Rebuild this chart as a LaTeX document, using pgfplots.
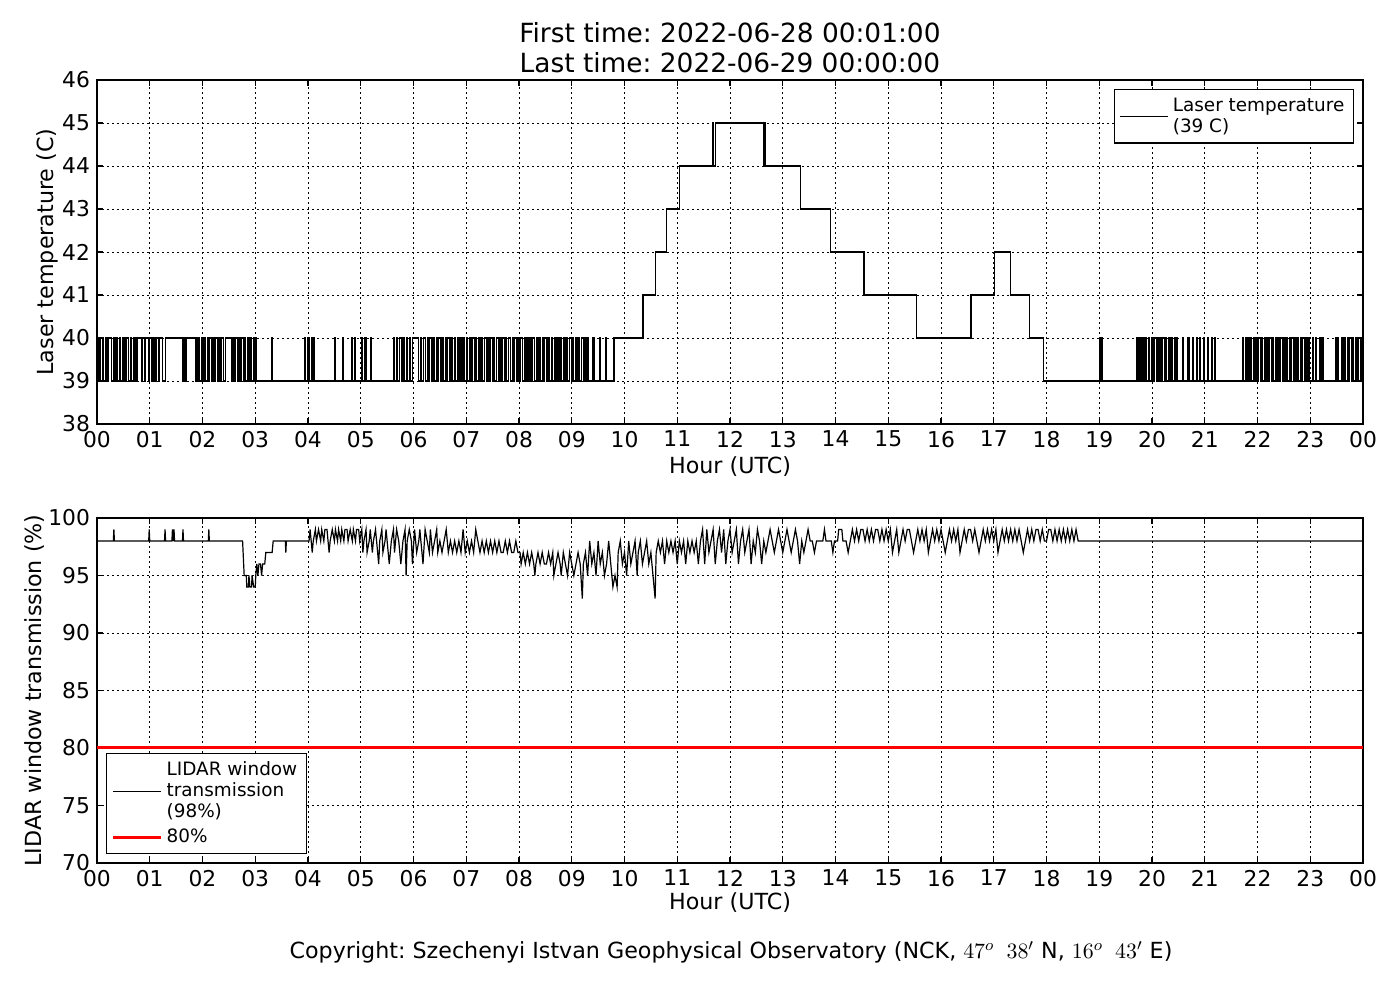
\documentclass[border=0pt]{standalone}
\usepackage{pgfplots}
\pgfplotsset{compat=1.18}
\usepackage{fontspec}
\setmainfont{DejaVu Sans}
\frenchspacing

\pgfplotstableread{
x y
0 40
0.02 39
0.05 40
0.07 39
0.10 40
0.13 39
0.17 40
0.19 39
0.22 40
0.27 39
0.31 40
0.33 39
0.36 40
0.38 39
0.42 40
0.45 39
0.49 40
0.51 39
0.55 40
0.60 39
0.64 40
0.66 39
0.70 40
0.72 39
0.76 40
0.84 39
0.86 40
0.90 39
0.92 40
0.97 39
0.99 40
1.04 39
1.06 40
1.10 39
1.12 40
1.17 39
1.19 40
1.24 39
1.30 40
1.62 39
1.65 40
1.67 39
1.70 40
1.86 39
1.88 40
1.90 39
1.93 40
1.95 39
1.98 40
2.01 39
2.04 40
2.06 39
2.09 40
2.11 39
2.14 40
2.17 39
2.20 40
2.22 39
2.25 40
2.28 39
2.31 40
2.33 39
2.36 40
2.40 39
2.43 40
2.56 39
2.58 40
2.60 39
2.63 40
2.66 39
2.69 40
2.71 39
2.74 40
2.77 39
2.80 40
2.82 39
2.85 40
2.88 39
2.91 40
2.93 39
2.96 40
2.98 39
3.01 40
3.03 39
3.31 40
3.33 39
3.94 40
3.96 39
4.00 40
4.02 39
4.06 40
4.08 39
4.11 40
4.13 39
4.50 40
4.52 39
4.66 40
4.68 39
4.82 40
4.84 39
4.88 40
4.90 39
5.01 40
5.03 39
5.08 40
5.10 39
5.18 40
5.20 39
5.62 40
5.64 39
5.68 40
5.70 39
5.74 40
5.77 39
5.80 40
5.82 39
5.86 40
5.89 39
5.92 40
5.94 39
5.98 40
6.10 39
6.13 40
6.15 39
6.19 40
6.22 39
6.26 40
6.28 39
6.31 40
6.35 39
6.38 40
6.40 39
6.43 40
6.45 39
6.48 40
6.52 39
6.55 40
6.57 39
6.60 40
6.62 39
6.65 40
6.69 39
6.72 40
6.74 39
6.77 40
6.80 39
6.83 40
6.85 39
6.88 40
6.92 39
6.95 40
6.97 39
7.00 40
7.03 39
7.06 40
7.08 39
7.11 40
7.15 39
7.18 40
7.20 39
7.23 40
7.26 39
7.29 40
7.31 39
7.34 40
7.38 39
7.41 40
7.43 39
7.46 40
7.49 39
7.52 40
7.54 39
7.57 40
7.61 39
7.64 40
7.66 39
7.69 40
7.72 39
7.75 40
7.77 39
7.80 40
7.84 39
7.87 40
7.89 39
7.92 40
7.95 39
7.98 40
8.00 39
8.03 40
8.07 39
8.10 40
8.12 39
8.15 40
8.18 39
8.21 40
8.23 39
8.26 40
8.30 39
8.33 40
8.35 39
8.38 40
8.41 39
8.44 40
8.46 39
8.49 40
8.53 39
8.56 40
8.58 39
8.61 40
8.64 39
8.67 40
8.69 39
8.72 40
8.76 39
8.79 40
8.81 39
8.84 40
8.87 39
8.90 40
8.92 39
8.95 40
8.99 39
9.02 40
9.04 39
9.07 40
9.10 39
9.13 40
9.15 39
9.18 40
9.22 39
9.25 40
9.27 39
9.30 40
9.32 39
9.40 40
9.42 39
9.52 40
9.54 39
9.64 40
9.66 39
9.80 40
10.35 41
10.58 42
10.79 43
11.05 44
11.67 45
11.69 44
11.72 45
12.64 44
12.66 45
12.68 44
13.33 43
13.90 42
14.54 41
15.53 40
16.57 41
17.02 42
17.31 41
17.67 40
17.95 39
19.00 40
19.02 39
19.04 40
19.06 39
19.70 40
19.72 39
19.74 40
19.77 39
19.79 40
19.81 39
19.84 40
19.86 39
19.88 40
19.90 39
19.93 40
19.95 39
20.00 40
20.02 39
20.05 40
20.08 39
20.10 40
20.12 39
20.15 40
20.17 39
20.20 40
20.23 39
20.26 40
20.28 39
20.31 40
20.33 39
20.36 40
20.38 39
20.42 40
20.44 39
20.47 40
20.49 39
20.58 40
20.60 39
20.68 40
20.70 39
20.76 40
20.78 39
20.84 40
20.86 39
20.90 40
20.92 39
20.98 40
21.00 39
21.05 40
21.07 39
21.12 40
21.14 39
21.18 40
21.20 39
21.72 40
21.74 39
21.77 40
21.79 39
21.81 40
21.84 39
21.87 40
21.89 39
21.92 40
21.94 39
21.97 40
21.99 39
22.02 40
22.05 39
22.08 40
22.10 39
22.13 40
22.15 39
22.18 40
22.20 39
22.23 40
22.26 39
22.29 40
22.31 39
22.34 40
22.36 39
22.39 40
22.41 39
22.44 40
22.47 39
22.50 40
22.52 39
22.55 40
22.57 39
22.60 40
22.62 39
22.65 40
22.68 39
22.71 40
22.73 39
22.76 40
22.78 39
22.81 40
22.83 39
22.86 40
22.89 39
22.92 40
22.94 39
22.97 40
22.99 39
23.04 40
23.06 39
23.10 40
23.12 39
23.18 40
23.20 39
23.22 40
23.24 39
23.48 40
23.50 39
23.52 40
23.54 39
23.60 40
23.62 39
23.65 40
23.67 39
23.70 40
23.72 39
23.75 40
23.78 39
23.80 40
23.82 39
23.85 40
23.87 39
23.90 40
23.92 39
23.95 40
23.97 39
24.00 39
}\lasertable

\pgfplotstableread{
x y
0 98
0.31 98
0.32 99
0.33 98
0.98 98
0.99 99
1.00 98
1.28 98
1.29 99
1.30 98
1.42 98
1.43 99
1.44 98
1.46 99
1.47 98
1.62 98
1.63 99
1.64 98
2.11 98
2.12 99
2.13 98
2.76 98
2.79 95
2.83 95
2.84 94
2.87 94
2.88 95
2.90 94
2.93 94
2.94 95
2.97 94
3.00 94
3.01 95
3.03 96
3.05 95
3.07 96
3.10 96
3.12 95
3.14 96
3.18 96
3.20 97
3.32 97
3.34 98
3.57 98
3.58 97
3.59 98
4.02 98
4.04 99
4.06 98
4.08 97
4.10 98
4.14 99
4.16 98
4.20 99
4.24 98
4.26 99
4.30 98
4.32 99
4.36 99
4.38 98
4.40 97
4.42 98
4.46 99
4.50 98
4.52 99
4.56 98
4.58 99
4.62 98
4.64 99
4.68 98
4.70 99
4.74 99
4.76 98
4.80 99
4.84 98
4.86 99
4.90 98
4.92 99
4.96 99
4.98 98
5.02 99
5.04 97
5.06 98
5.10 99
5.12 97
5.16 98
5.18 99
5.22 97
5.24 98
5.28 99
5.30 98
5.34 96
5.36 98
5.40 99
5.42 97
5.46 98
5.48 99
5.52 97
5.54 96
5.58 98
5.62 99
5.64 97
5.68 99
5.72 98
5.76 96
5.80 98
5.84 99
5.86 95
5.88 98
5.92 99
5.96 98
5.98 96
6.02 99
6.06 97
6.10 98
6.12 99
6.16 97
6.18 96
6.22 99
6.26 98
6.30 97
6.32 99
6.36 97
6.40 98
6.44 99
6.46 97
6.50 98
6.54 97
6.58 98
6.62 99
6.66 97
6.70 98
6.74 97
6.78 98
6.82 97
6.86 98
6.90 97
6.94 99
6.98 97
7.02 98
7.06 97
7.10 98
7.14 97
7.18 99
7.22 98
7.26 97
7.30 98
7.34 97
7.38 98
7.42 97
7.46 98
7.50 97
7.54 98
7.58 97
7.62 98
7.66 97
7.70 97
7.74 98
7.78 97
7.82 98
7.86 97
7.90 97
7.94 98
7.98 97
8.02 97
8.04 96
8.08 97
8.12 96
8.16 97
8.20 96
8.24 97
8.28 96
8.30 95
8.32 96
8.36 97
8.40 96
8.44 97
8.48 96
8.52 96
8.56 97
8.60 96
8.64 97
8.66 95
8.70 96
8.74 97
8.78 96
8.80 95
8.84 97
8.88 96
8.92 95
8.96 97
9.00 96
9.04 95
9.08 96
9.12 97
9.16 96
9.20 93
9.22 96
9.26 97
9.30 95
9.34 98
9.38 96
9.42 97
9.46 95
9.50 98
9.54 96
9.58 97
9.62 95
9.66 96
9.70 98
9.74 96
9.78 94
9.82 95
9.86 94
9.88 97
9.92 98
9.96 96
10.00 97
10.04 95
10.08 98
10.12 96
10.16 97
10.20 98
10.24 95
10.26 97
10.30 98
10.34 96
10.38 97
10.42 98
10.46 96
10.50 97
10.54 95
10.58 93
10.60 97
10.64 98
10.68 97
10.72 98
10.76 96
10.80 98
10.84 97
10.88 98
10.92 97
10.96 98
11.00 96
11.04 98
11.08 97
11.12 98
11.16 96
11.20 98
11.24 97
11.28 98
11.32 97
11.36 98
11.40 96
11.44 98
11.48 99
11.52 96
11.56 99
11.60 97
11.64 98
11.68 99
11.72 96
11.76 98
11.80 99
11.84 97
11.88 99
11.92 96
11.96 98
12.00 99
12.04 97
12.08 98
12.12 99
12.16 96
12.20 98
12.24 99
12.28 97
12.32 98
12.36 99
12.40 96
12.44 98
12.48 97
12.52 99
12.56 98
12.60 96
12.64 98
12.68 97
12.72 98
12.76 99
12.80 98
12.84 97
12.88 98
12.92 99
12.96 98
13.00 97
13.04 98
13.08 99
13.12 98
13.16 97
13.20 98
13.24 99
13.28 98
13.32 96
13.36 98
13.40 97
13.44 98
13.48 99
13.52 98
13.56 98
13.60 97
13.64 98
13.76 98
13.79 99
13.82 98
13.92 98
13.95 97
13.98 98
14.04 98
14.06 99
14.12 99
14.14 98
14.20 98
14.24 97
14.28 98
14.32 99
14.36 98
14.40 99
14.44 98
14.48 99
14.52 99
14.56 98
14.60 99
14.64 98
14.68 99
14.72 98
14.76 99
14.80 99
14.84 98
14.88 99
14.92 98
14.96 99
15.00 98
15.04 99
15.08 97
15.12 98
15.16 99
15.20 97
15.24 98
15.28 99
15.32 98
15.36 99
15.40 99
15.44 98
15.48 97
15.52 98
15.56 99
15.60 98
15.64 99
15.68 98
15.72 99
15.76 97
15.80 98
15.84 99
15.88 98
15.92 99
15.96 98
16.00 99
16.04 98
16.08 97
16.12 98
16.16 99
16.20 98
16.24 99
16.28 98
16.32 99
16.36 97
16.40 98
16.44 99
16.48 98
16.52 99
16.56 99
16.60 98
16.64 99
16.68 98
16.72 97
16.76 98
16.80 99
16.84 98
16.88 99
16.92 98
16.96 99
17.00 98
17.04 99
17.08 97
17.12 98
17.16 99
17.20 98
17.24 99
17.28 98
17.32 99
17.36 98
17.40 99
17.44 98
17.48 99
17.52 98
17.56 97
17.60 98
17.64 99
17.68 98
17.72 99
17.76 98
17.80 99
17.84 99
17.88 98
17.92 99
17.96 98
18.00 98
18.04 99
18.08 99
18.12 98
18.16 99
18.20 98
18.24 99
18.28 98
18.32 99
18.36 98
18.40 99
18.44 98
18.48 99
18.52 98
18.56 99
18.60 98
24.00 98
}\lidartable

\pgfplotsset{
  chartax/.style={
    scale only axis, width=633pt,
    xmin=0, xmax=24,
    xtick={0,...,24},
    xticklabels={00,01,02,03,04,05,06,07,08,09,10,11,12,13,14,15,16,17,18,19,20,21,22,23,00},
    tick align=inside, tick pos=both, major tick length=3pt,
    grid=major,
    grid style={black, line width=0.4pt, dash pattern=on 1pt off 1.5pt},
    axis line style={black, line width=0.7pt},
    tick style={black, line width=0.7pt},
    ticklabel style={font=\fontsize{10.9}{13}\selectfont},
    /pgf/number format/assume math mode=true,
  }
}

\begin{document}
\begin{tikzpicture}
\path[use as bounding box] (0,0) rectangle (700pt,500pt);

\begin{axis}[chartax,
  at={(48.5pt,288pt)}, anchor=south west, height=172pt,
  ymin=38, ymax=46, ytick={38,...,46},
  legend image code/.code={\draw[#1] (0pt,0pt) -- (19pt,0pt); \path (0pt,0pt) -- (24pt,0pt);},
  legend style={at={(0.9929,0.974)}, anchor=north east, draw=black, line width=0.7pt,
    font=\fontsize{9.2}{10.5}\selectfont, inner xsep=2.5pt, inner ysep=2pt,
    cells={align=left, anchor=west}},
]
\addplot[black, line width=0.6pt, const plot] table[x=x, y=y] {\lasertable};
\addlegendentry{Laser temperature\\(39 C)}
\end{axis}

\begin{axis}[chartax,
  at={(48.5pt,68.5pt)}, anchor=south west, height=172.5pt,
  ymin=70, ymax=100, ytick={70,75,...,100},
  legend image code/.code={\draw[#1] (0pt,0pt) -- (19pt,0pt); \path (0pt,0pt) -- (24pt,0pt);},
  legend style={at={(0.0071,0.026)}, anchor=south west, draw=black, line width=0.7pt,
    font=\fontsize{9.2}{10.5}\selectfont, inner xsep=2.5pt, inner ysep=2pt,
    cells={align=left, anchor=west}},
]
\addplot[black, line width=0.6pt] table[x=x, y=y] {\lidartable};
\addlegendentry{LIDAR window\\transmission\\(98\%)}
\addplot[red, line width=1.5pt] coordinates {(0,80) (24,80)};
\addlegendentry{80\%}
\end{axis}

\node[anchor=base, font=\fontsize{13.2}{15.5}\selectfont] at (365pt,478.5pt) {First time: 2022-06-28 00:01:00};
\node[anchor=base, font=\fontsize{13.2}{15.5}\selectfont] at (365pt,463.5pt) {Last time: 2022-06-29 00:00:00};

\node[anchor=base, font=\fontsize{11.1}{13}\selectfont] at (365pt,263pt) {Hour (UTC)};
\node[anchor=base, font=\fontsize{11.1}{13}\selectfont] at (365pt,45.5pt) {Hour (UTC)};

\node[rotate=90, anchor=base, font=\fontsize{11.1}{13}\selectfont] at (26.5pt,374pt) {Laser temperature (C)};
\node[rotate=90, anchor=base, font=\fontsize{11.1}{13}\selectfont] at (20.5pt,154.75pt) {LIDAR window transmission (\%)};

\node[anchor=base, font=\fontsize{11.1}{13}\selectfont] at (365.5pt,21pt) {Copyright: Szechenyi Istvan Geophysical Observatory (NCK, $47^o\;\;38'$ N, $16^o\;\;43'$ E)};
\end{tikzpicture}
\end{document}
